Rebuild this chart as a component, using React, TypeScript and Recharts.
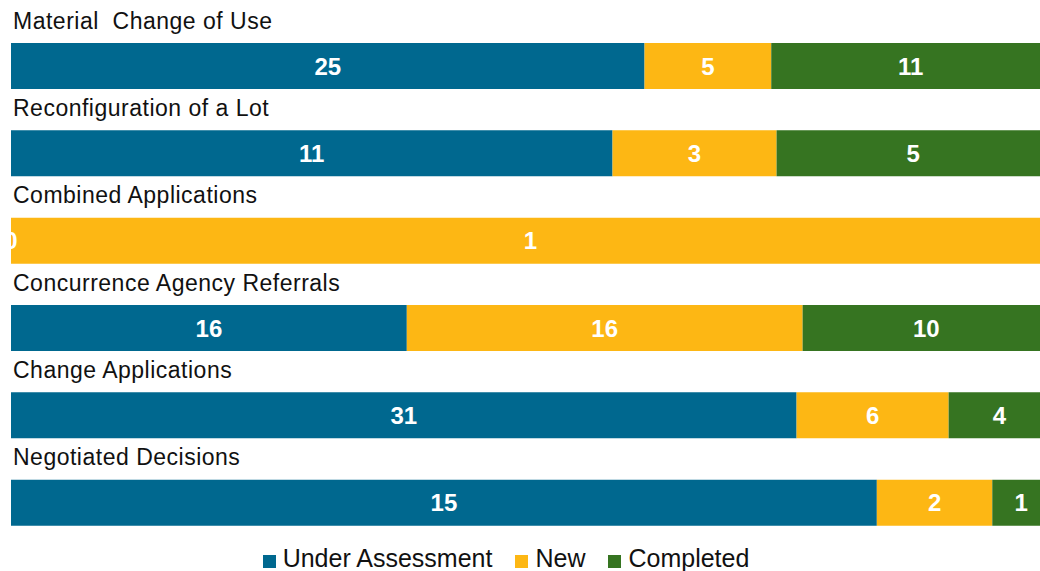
import React from "react";
import { BarChart, Bar, XAxis, YAxis, LabelList } from "recharts";

// categories shown as a title above each bar
const categories = [
  "Material  Change of Use",
  "Reconfiguration of a Lot",
  "Combined Applications",
  "Concurrence Agency Referrals",
  "Change Applications",
  "Negotiated Decisions",
];

const underAssessment = [25, 11, 0, 16, 31, 15];
const newApps = [5, 3, 1, 16, 6, 2];
const completed = [11, 5, 0, 10, 4, 1];

const series = [
  { key: "underAssessment", name: "Under Assessment", color: "#00688F" },
  { key: "newApps", name: "New", color: "#FDB714" },
  { key: "completed", name: "Completed", color: "#367421" },
];

const data = categories.map((name, i) => ({
  name,
  underAssessment: underAssessment[i],
  newApps: newApps[i],
  completed: completed[i],
}));

const FONT = "Arial, 'Liberation Sans', sans-serif";

// title sits above the bar, left aligned
const renderTitle = (props: any) => (
  <text
    key={props.index}
    x={3}
    y={props.y - 37}
    fill="#111"
    fontSize={23}
    letterSpacing={0.5}
    fontFamily={FONT}
    style={{ whiteSpace: "pre" }}
  >
    {props.payload.value}
  </text>
);

// value labels, drawn even for zero-width segments (the "0" sits on the bar edge)
const renderValue = (props: any) => {
  const { x, y, width, height, value } = props;
  if (value == null) return null;
  return (
    <text
      x={Number(x) + Number(width) / 2}
      y={Number(y) + Number(height) / 2}
      textAnchor="middle"
      dominantBaseline="central"
      fill="#fff"
      fontSize={24}
      fontWeight="bold"
      fontFamily={FONT}
    >
      {value}
    </text>
  );
};

export default function App() {
  return (
    <div style={{ position: "absolute", left: 0, top: 0, width: 1040, height: 571, background: "#fff", overflow: "hidden" }}>
      <div style={{ position: "absolute", left: 10, top: 0, width: 1030, height: 571, overflow: "hidden" }}>
        <BarChart
          width={1040}
          height={571}
          data={data}
          layout="vertical"
          stackOffset="expand"
          margin={{ top: 22, right: 0, bottom: 25, left: 0 }}
        >
          <XAxis type="number" hide domain={[0, 1]} />
          <YAxis
            type="category"
            dataKey="name"
            width={1}
            axisLine={false}
            tickLine={false}
            interval={0}
            tick={renderTitle}
          />
          {series.map((s) => (
            <Bar
              key={s.key}
              dataKey={s.key}
              name={s.name}
              stackId="a"
              fill={s.color}
              barSize={46}
              minPointSize={0.001}
              isAnimationActive={false}
            >
              <LabelList dataKey={s.key} content={renderValue} />
            </Bar>
          ))}
        </BarChart>
      </div>
      <div
        style={{
          position: "absolute",
          left: -14,
          top: 544,
          width: 1040,
          display: "flex",
          justifyContent: "center",
          alignItems: "center",
          fontFamily: FONT,
          fontSize: 25,
          color: "#111",
          lineHeight: "28px",
        }}
      >
        {series.map((s, i) => (
          <div key={s.key} style={{ display: "flex", alignItems: "center", marginLeft: i ? 23 : 0 }}>
            <span style={{ display: "inline-block", width: 13, height: 13, background: s.color, marginRight: 7, marginTop: 6 }} />
            <span>{s.name}</span>
          </div>
        ))}
      </div>
    </div>
  );
}
